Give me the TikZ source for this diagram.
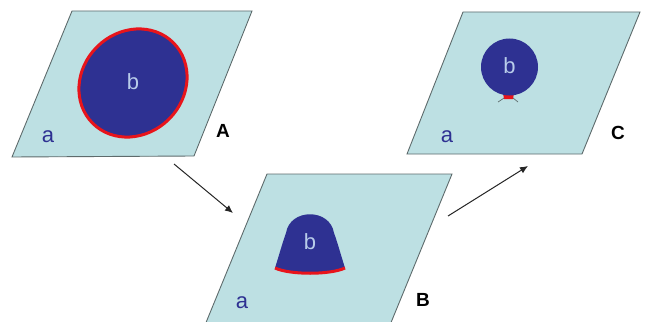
\documentclass[tikz,border=0pt]{standalone}
\usepackage{fontspec}
\setmainfont{Liberation Sans}
\usetikzlibrary{arrows.meta}
\definecolor{panelfill}{HTML}{BDE0E3}
\definecolor{panelline}{HTML}{5E6B6C}
\definecolor{cellblue}{HTML}{2E3192}
\definecolor{lightb}{HTML}{B8CCEA}
\definecolor{redrim}{HTML}{E8141B}
\tikzset{
  panel/.style={fill=panelfill,draw=panelline,line width=0.9pt},
  cell/.style={fill=cellblue},
  blabel/.style={text=lightb,font=\fontsize{22}{22}\selectfont,inner sep=0pt},
  alabel/.style={text=cellblue,font=\fontsize{22}{22}\selectfont,inner sep=0pt},
  plabel/.style={text=black,font=\bfseries\fontsize{19}{19}\selectfont,inner sep=0pt},
  flow/.style={-{Latex[length=8pt,width=7pt]},line width=1pt,draw=black!85}
}
\begin{document}
\begin{tikzpicture}[x=1pt,y=-1pt]
\useasboundingbox (0,0) rectangle (647,321);
% Panel A
\draw[panel] (72,11) -- (252,11) -- (194,156) -- (12,157) -- cycle;
\draw[cell,draw=redrim,line width=3pt,rotate around={45:(133,83)}] (133,83) ellipse [x radius=57,y radius=51];
\node[blabel] (bA) at (133,82) {b};
\node[alabel] (aA) at (48,137) {a};
\node[plabel] (A) at (223,131) {A};
% Panel C
\draw[panel] (463,12) -- (640,12) -- (582,154) -- (407,154) -- cycle;
\fill[redrim] (503,93) -- (514,93) -- (513,99) -- (504,99) -- cycle;
\fill[cell] (509.5,67) circle (28.5);
\draw[panelline,line width=0.7pt] (498,102) -- (504,98);
\draw[panelline,line width=0.7pt] (513,98) -- (518,102);
\node[blabel] (bC) at (509.5,66) {b};
\node[alabel] (aC) at (447,137) {a};
\node[plabel] (C) at (618,133) {C};
% Panel B
\draw[panel] (267,174) -- (452,174) -- (390,325) -- (205,325) -- cycle;
\fill[cell] (275,268) .. controls (280,252) and (283,241) .. (286,233)
  .. controls (290,208) and (330,208) .. (334,233)
  .. controls (337,241) and (340,252) .. (345,268)
  .. controls (330,275) and (290,275) .. (275,268) -- cycle;
\draw[redrim,line width=3pt] (275,268) .. controls (290,275) and (330,275) .. (345,268);
\node[blabel] (bB) at (310,242) {b};
\node[alabel] (aB) at (242,303) {a};
\node[plabel] (B) at (423,300) {B};
% Arrows
\coordinate (s1) at (174,164);
\coordinate (e1) at (233,213);
\coordinate (s2) at (448,216);
\coordinate (e2) at (528,166);
\draw[flow] (s1) -- (e1);
\draw[flow] (s2) -- (e2);
\end{tikzpicture}
\end{document}
